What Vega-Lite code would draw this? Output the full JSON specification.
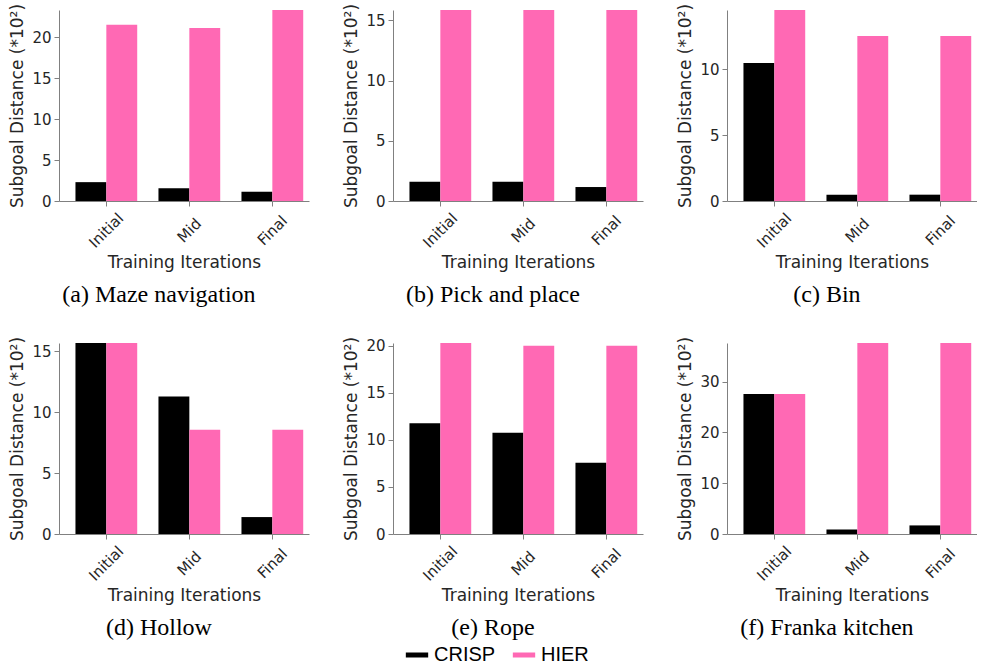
{
  "$schema": "https://vega.github.io/schema/vega-lite/v6.json",
  "background": "white",
  "padding": {"left": 8, "top": 3, "right": 0, "bottom": 0},
  "config": {
    "view": {"stroke": null},
    "font": "DejaVu Sans",
    "axis": {"domainColor": "#808080", "tickColor": "#808080", "labelColor": "#262626", "titleColor": "#262626", "labelFontSize": 15, "titleFontSize": 17, "titleFontWeight": "normal", "grid": false, "labelFont": "DejaVu Sans", "titleFont": "DejaVu Sans", "tickSize": 5},
    "axisX": {"labelAngle": -45, "labelAlign": "center", "labelBaseline": "middle", "labelPadding": 24, "titlePadding": 4},
    "axisY": {"labelPadding": 3, "titlePadding": 5},
    "title": {"font": "Liberation Serif", "fontSize": 24, "fontWeight": "normal", "color": "black", "orient": "bottom", "offset": 13, "anchor": "middle", "frame": "bounds"}
  },
  "data": {"values": [
    {"panel": "a", "iteration": "Initial", "method": "CRISP", "value": 2.3},
    {"panel": "a", "iteration": "Mid", "method": "CRISP", "value": 1.55},
    {"panel": "a", "iteration": "Final", "method": "CRISP", "value": 1.13},
    {"panel": "a", "iteration": "Initial", "method": "HIER", "value": 21.5},
    {"panel": "a", "iteration": "Mid", "method": "HIER", "value": 21.1},
    {"panel": "a", "iteration": "Final", "method": "HIER", "value": 23.3},
    {"panel": "b", "iteration": "Initial", "method": "CRISP", "value": 1.6},
    {"panel": "b", "iteration": "Mid", "method": "CRISP", "value": 1.6},
    {"panel": "b", "iteration": "Final", "method": "CRISP", "value": 1.16},
    {"panel": "b", "iteration": "Initial", "method": "HIER", "value": 15.86},
    {"panel": "b", "iteration": "Mid", "method": "HIER", "value": 15.86},
    {"panel": "b", "iteration": "Final", "method": "HIER", "value": 15.86},
    {"panel": "c", "iteration": "Initial", "method": "CRISP", "value": 10.48},
    {"panel": "c", "iteration": "Mid", "method": "CRISP", "value": 0.48},
    {"panel": "c", "iteration": "Final", "method": "CRISP", "value": 0.48},
    {"panel": "c", "iteration": "Initial", "method": "HIER", "value": 14.5},
    {"panel": "c", "iteration": "Mid", "method": "HIER", "value": 12.52},
    {"panel": "c", "iteration": "Final", "method": "HIER", "value": 12.52},
    {"panel": "d", "iteration": "Initial", "method": "CRISP", "value": 15.68},
    {"panel": "d", "iteration": "Mid", "method": "CRISP", "value": 11.28},
    {"panel": "d", "iteration": "Final", "method": "CRISP", "value": 1.39},
    {"panel": "d", "iteration": "Initial", "method": "HIER", "value": 15.68},
    {"panel": "d", "iteration": "Mid", "method": "HIER", "value": 8.55},
    {"panel": "d", "iteration": "Final", "method": "HIER", "value": 8.55},
    {"panel": "e", "iteration": "Initial", "method": "CRISP", "value": 11.78},
    {"panel": "e", "iteration": "Mid", "method": "CRISP", "value": 10.76},
    {"panel": "e", "iteration": "Final", "method": "CRISP", "value": 7.57},
    {"panel": "e", "iteration": "Initial", "method": "HIER", "value": 20.3},
    {"panel": "e", "iteration": "Mid", "method": "HIER", "value": 20.0},
    {"panel": "e", "iteration": "Final", "method": "HIER", "value": 20.0},
    {"panel": "f", "iteration": "Initial", "method": "CRISP", "value": 27.56},
    {"panel": "f", "iteration": "Mid", "method": "CRISP", "value": 0.9},
    {"panel": "f", "iteration": "Final", "method": "CRISP", "value": 1.69},
    {"panel": "f", "iteration": "Initial", "method": "HIER", "value": 27.56},
    {"panel": "f", "iteration": "Mid", "method": "HIER", "value": 37.6},
    {"panel": "f", "iteration": "Final", "method": "HIER", "value": 37.6}
  ]},
  "resolve": {"scale": {"y": "independent", "x": "independent", "xOffset": "independent", "color": "shared"}},
  "spacing": 28,
  "vconcat": [
    {
      "spacing": 33,
      "resolve": {"scale": {"y": "independent", "x": "independent", "xOffset": "independent", "color": "shared"}},
      "hconcat": [
        {
          "width": 250, "height": 191,
          "title": "(a) Maze navigation",
          "transform": [{"filter": "datum.panel === 'a'"}],
          "mark": {"type": "bar"},
          "encoding": {
            "x": {"field": "iteration", "type": "nominal", "sort": ["Initial", "Mid", "Final"], "scale": {"paddingInner": 0.256, "paddingOuter": 0.134, "align": 0.74}, "axis": {"title": "Training Iterations"}},
            "xOffset": {"field": "method", "type": "nominal", "sort": ["CRISP", "HIER"], "scale": {"paddingInner": 0, "paddingOuter": 0}},
            "y": {"field": "value", "type": "quantitative", "scale": {"nice": false, "zero": true}, "axis": {"title": "Subgoal Distance (*10²)", "values": [0, 5, 10, 15, 20]}},
            "color": {"field": "method", "type": "nominal", "scale": {"domain": ["CRISP", "HIER"], "range": ["#000000", "#ff69b4"]},
              "legend": {"orient": "none", "legendX": 344, "legendY": 631, "direction": "horizontal", "title": null, "symbolType": "stroke", "symbolStrokeWidth": 5, "symbolSize": 500, "labelFontSize": 20, "labelFont": "Liberation Sans", "labelColor": "black", "columnPadding": 6, "labelOffset": 3,
                "encode": {"symbols": {"update": {"stroke": {"scale": "color", "field": "value"}}}}}}
          }
        },
        {
          "width": 250, "height": 191,
          "title": "(b) Pick and place",
          "transform": [{"filter": "datum.panel === 'b'"}],
          "mark": {"type": "bar"},
          "encoding": {
            "x": {"field": "iteration", "type": "nominal", "sort": ["Initial", "Mid", "Final"], "scale": {"paddingInner": 0.256, "paddingOuter": 0.134, "align": 0.74}, "axis": {"title": "Training Iterations"}},
            "xOffset": {"field": "method", "type": "nominal", "sort": ["CRISP", "HIER"], "scale": {"paddingInner": 0, "paddingOuter": 0}},
            "y": {"field": "value", "type": "quantitative", "scale": {"nice": false, "zero": true}, "axis": {"title": "Subgoal Distance (*10²)", "values": [0, 5, 10, 15]}},
            "color": {"field": "method", "type": "nominal", "scale": {"domain": ["CRISP", "HIER"], "range": ["#000000", "#ff69b4"]}}
          }
        },
        {
          "width": 250, "height": 191,
          "title": "(c) Bin",
          "transform": [{"filter": "datum.panel === 'c'"}],
          "mark": {"type": "bar"},
          "encoding": {
            "x": {"field": "iteration", "type": "nominal", "sort": ["Initial", "Mid", "Final"], "scale": {"paddingInner": 0.256, "paddingOuter": 0.134, "align": 0.74}, "axis": {"title": "Training Iterations"}},
            "xOffset": {"field": "method", "type": "nominal", "sort": ["CRISP", "HIER"], "scale": {"paddingInner": 0, "paddingOuter": 0}},
            "y": {"field": "value", "type": "quantitative", "scale": {"nice": false, "zero": true}, "axis": {"title": "Subgoal Distance (*10²)", "values": [0, 5, 10]}},
            "color": {"field": "method", "type": "nominal", "scale": {"domain": ["CRISP", "HIER"], "range": ["#000000", "#ff69b4"]}}
          }
        }
      ]
    },
    {
      "spacing": 33,
      "resolve": {"scale": {"y": "independent", "x": "independent", "xOffset": "independent", "color": "shared"}},
      "hconcat": [
        {
          "width": 250, "height": 191,
          "title": "(d) Hollow",
          "transform": [{"filter": "datum.panel === 'd'"}],
          "mark": {"type": "bar"},
          "encoding": {
            "x": {"field": "iteration", "type": "nominal", "sort": ["Initial", "Mid", "Final"], "scale": {"paddingInner": 0.256, "paddingOuter": 0.134, "align": 0.74}, "axis": {"title": "Training Iterations"}},
            "xOffset": {"field": "method", "type": "nominal", "sort": ["CRISP", "HIER"], "scale": {"paddingInner": 0, "paddingOuter": 0}},
            "y": {"field": "value", "type": "quantitative", "scale": {"nice": false, "zero": true}, "axis": {"title": "Subgoal Distance (*10²)", "values": [0, 5, 10, 15]}},
            "color": {"field": "method", "type": "nominal", "scale": {"domain": ["CRISP", "HIER"], "range": ["#000000", "#ff69b4"]}}
          }
        },
        {
          "width": 250, "height": 191,
          "title": "(e) Rope",
          "transform": [{"filter": "datum.panel === 'e'"}],
          "mark": {"type": "bar"},
          "encoding": {
            "x": {"field": "iteration", "type": "nominal", "sort": ["Initial", "Mid", "Final"], "scale": {"paddingInner": 0.256, "paddingOuter": 0.134, "align": 0.74}, "axis": {"title": "Training Iterations"}},
            "xOffset": {"field": "method", "type": "nominal", "sort": ["CRISP", "HIER"], "scale": {"paddingInner": 0, "paddingOuter": 0}},
            "y": {"field": "value", "type": "quantitative", "scale": {"nice": false, "zero": true}, "axis": {"title": "Subgoal Distance (*10²)", "values": [0, 5, 10, 15, 20]}},
            "color": {"field": "method", "type": "nominal", "scale": {"domain": ["CRISP", "HIER"], "range": ["#000000", "#ff69b4"]}}
          }
        },
        {
          "width": 250, "height": 191,
          "title": "(f) Franka kitchen",
          "transform": [{"filter": "datum.panel === 'f'"}],
          "mark": {"type": "bar"},
          "encoding": {
            "x": {"field": "iteration", "type": "nominal", "sort": ["Initial", "Mid", "Final"], "scale": {"paddingInner": 0.256, "paddingOuter": 0.134, "align": 0.74}, "axis": {"title": "Training Iterations"}},
            "xOffset": {"field": "method", "type": "nominal", "sort": ["CRISP", "HIER"], "scale": {"paddingInner": 0, "paddingOuter": 0}},
            "y": {"field": "value", "type": "quantitative", "scale": {"nice": false, "zero": true}, "axis": {"title": "Subgoal Distance (*10²)", "values": [0, 10, 20, 30]}},
            "color": {"field": "method", "type": "nominal", "scale": {"domain": ["CRISP", "HIER"], "range": ["#000000", "#ff69b4"]}}
          }
        }
      ]
    }
  ]
}
